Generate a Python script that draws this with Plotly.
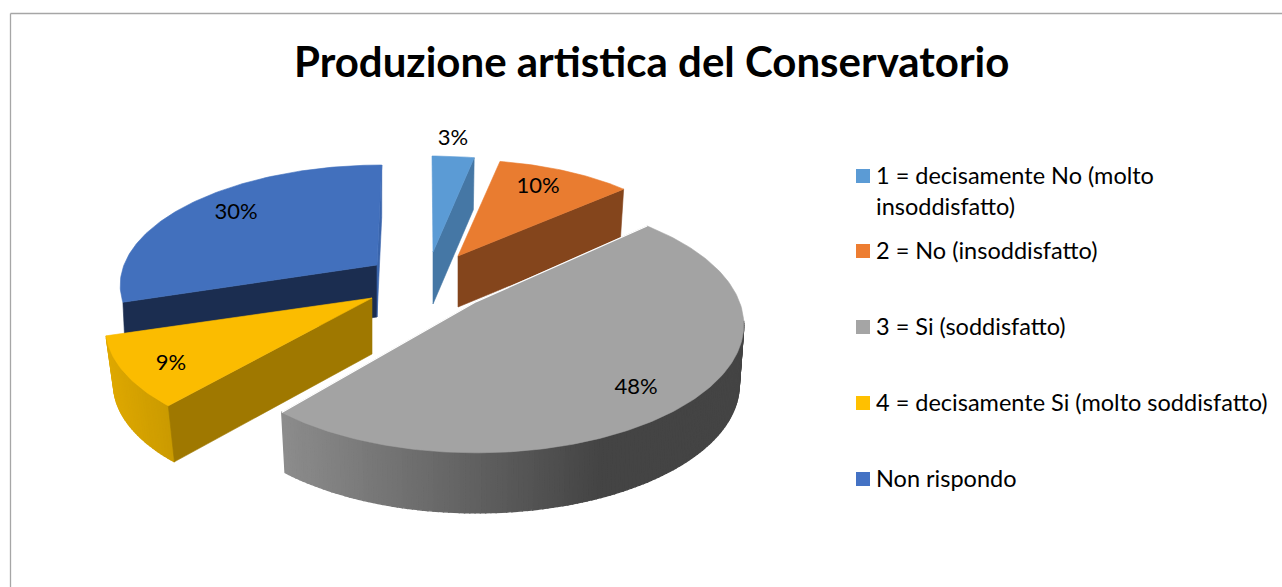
import math
import plotly.graph_objects as go

TITLE = "Produzione artistica del Conservatorio"
categories = ["1 = decisamente No (molto<br>insoddisfatto)", "2 = No (insoddisfatto)",
              "3 = Si (soddisfatto)", "4 = decisamente Si (molto soddisfatto)", "Non rispondo"]
values = [3, 10, 48, 9, 30]

# colours
top_colors = ["#5b9bd5", "#e97c30", "#a3a3a3", "#fbbc00", "#4270bd"]
key_colors = ["#5b9bd5", "#ed7d31", "#a5a5a5", "#ffc000", "#4472c4"]

# projection of each exploded slice: apex, radii, perspective, skew, depth
GEOM = [
    dict(ax=433, ay=252, rx=225, ry=96, k=0.0, skew=-1, depth=52, shrink=0.98),
    dict(ax=458, ay=256, rx=235, ry=101, k=0.05, skew=0, depth=51, shrink=0.98),
    dict(ax=476.4, ay=301.6, rx=263, ry=124, k=0.18, skew=0, depth=60, shrink=0.983),
    dict(ax=372, ay=298, rx=258, ry=113, k=0.25, skew=0, depth=56, shrink=0.97),
    dict(ax=377, ay=265, rx=253, ry=115, k=0.15, skew=5.5, depth=52, shrink=0.99),
]
# which faces show: cut at slice start, cut at slice end, outer wall
FACES = [
    dict(start=None, end="#4577a5", wall=None),
    dict(start=None, end="#84451c", wall=None),
    dict(start=None, end=None, wall=((282, (140, 140, 140)), (600, (68, 68, 68)), (745, (68, 68, 68)))),
    dict(start="#9f7800", end=None, wall=((106, (222, 168, 0)), (174, (200, 153, 0)))),
    dict(start="#1b2d50", end="#3a65ac", wall=None),
]
LABEL_XY = [(453, 139), (538, 187), (636, 388), (171, 364), (236, 213)]
LEGEND_Y = [176, 251, 327, 403, 479]
LEGEND_X = 863
TEXT_X = 876
FONT = "Lato, Carlito, Calibri, sans-serif"
DRAW_ORDER = [0, 1, 4, 3, 2]
WALL_V_MAX = -0.15  # outer wall only shows on the near part of the rim

fig = go.Figure()


def poly(xs, ys, color, width=0.6):
    fig.add_trace(go.Scatter(x=list(xs) + [xs[0]], y=list(ys) + [ys[0]], mode="lines", fill="toself",
                             fillcolor=color, line=dict(color=color, width=width),
                             hoverinfo="skip", showlegend=False))


def top_pt(g, theta):
    u, v = math.sin(theta), math.cos(theta)
    w = 1 + g["k"] * v
    return g["ax"] + (g["rx"] * u + g["skew"] * v) / w, g["ay"] - g["ry"] * v / w


def low_pt(g, pt):
    return g["ax"] + g["shrink"] * (pt[0] - g["ax"]), pt[1] + g["depth"]


def ramp(stops, x):
    if x <= stops[0][0]:
        return stops[0][1]
    for (x0, c0), (x1, c1) in zip(stops, stops[1:]):
        if x <= x1:
            t = (x - x0) / (x1 - x0)
            return tuple(round(a + (b - a) * t) for a, b in zip(c0, c1))
    return stops[-1][1]


total = sum(values)
bounds = [0]
for val in values:
    bounds.append(bounds[-1] + val / total * 2 * math.pi)

for i in DRAW_ORDER:
    g, f = GEOM[i], FACES[i]
    a0, a1 = bounds[i], bounds[i + 1]
    apex = (g["ax"], g["ay"])
    n = max(8, int((a1 - a0) * 60))
    thetas = [a0 + (a1 - a0) * j / n for j in range(n + 1)]
    arc = [top_pt(g, t) for t in thetas]
    if f["wall"]:
        for t, p, q in zip(thetas, arc, arc[1:]):
            if math.cos(t) > WALL_V_MAX:
                continue
            lp, lq = low_pt(g, p), low_pt(g, q)
            c = ramp(f["wall"], (p[0] + q[0]) / 2)
            poly([p[0], q[0], lq[0], lp[0]], [p[1], q[1], lq[1], lp[1]], "rgb(%d,%d,%d)" % c, width=1.4)
    for col, pt in ((f["start"], arc[0]), (f["end"], arc[-1])):
        if col:
            lp, la = low_pt(g, pt), (g["ax"], g["ay"] + g["depth"])
            poly([apex[0], pt[0], lp[0], la[0]], [apex[1], pt[1], lp[1], la[1]], col)
    xs = [apex[0]] + [p[0] for p in arc]
    ys = [apex[1]] + [p[1] for p in arc]
    poly(xs, ys, top_colors[i])
    if i == 2:  # light rim along the straight edge of the big slice
        fig.add_trace(go.Scatter(x=[arc[0][0], apex[0], arc[-1][0]], y=[arc[0][1], apex[1], arc[-1][1]], mode="lines",
                                 line=dict(color="#ffffff", width=1.2), hoverinfo="skip", showlegend=False))

# data labels
fig.add_trace(go.Scatter(x=[p[0] for p in LABEL_XY], y=[p[1] for p in LABEL_XY], mode="text",
                         text=[f"{v}%" for v in values], textposition="middle center",
                         textfont=dict(family=FONT, size=22, color="#000000"),
                         hoverinfo="skip", showlegend=False))
# legend keys + labels
fig.add_trace(go.Scatter(x=[LEGEND_X] * len(LEGEND_Y), y=LEGEND_Y, mode="markers",
                         marker=dict(symbol="square", size=14, color=key_colors, line=dict(width=0)),
                         hoverinfo="skip", showlegend=False))
for name, y in zip(categories, LEGEND_Y):
    fig.add_annotation(x=TEXT_X, y=y - 17, text=name, xref="x", yref="y", xanchor="left", yanchor="top",
                       align="left", showarrow=False, xshift=-2, font=dict(family=FONT, size=23.5, color="#000000"))

fig.add_annotation(x=651, y=61, text=f"<b>{TITLE}</b>", xref="x", yref="y", showarrow=False,
                   font=dict(family=FONT, size=42, color="#000000"))

# chart frame
fig.add_shape(type="line", x0=10.5, x1=10.5, y0=13.5, y1=587, xref="x", yref="y", line=dict(color="#a6a6a6", width=1.3))
fig.add_shape(type="line", x0=10.5, x1=1282, y0=13.5, y1=13.5, xref="x", yref="y", line=dict(color="#a6a6a6", width=1.3))

fig.update_layout(width=1282, height=587, margin=dict(l=0, r=0, t=0, b=0), paper_bgcolor="white", plot_bgcolor="white",
                  xaxis=dict(range=[0, 1282], visible=False, fixedrange=True),
                  yaxis=dict(range=[587, 0], visible=False, fixedrange=True),
                  showlegend=False)
fig.write_html("out.html", config=dict(displayModeBar=False),
               post_script="document.body.style.margin='0';document.body.style.overflow='hidden';")
